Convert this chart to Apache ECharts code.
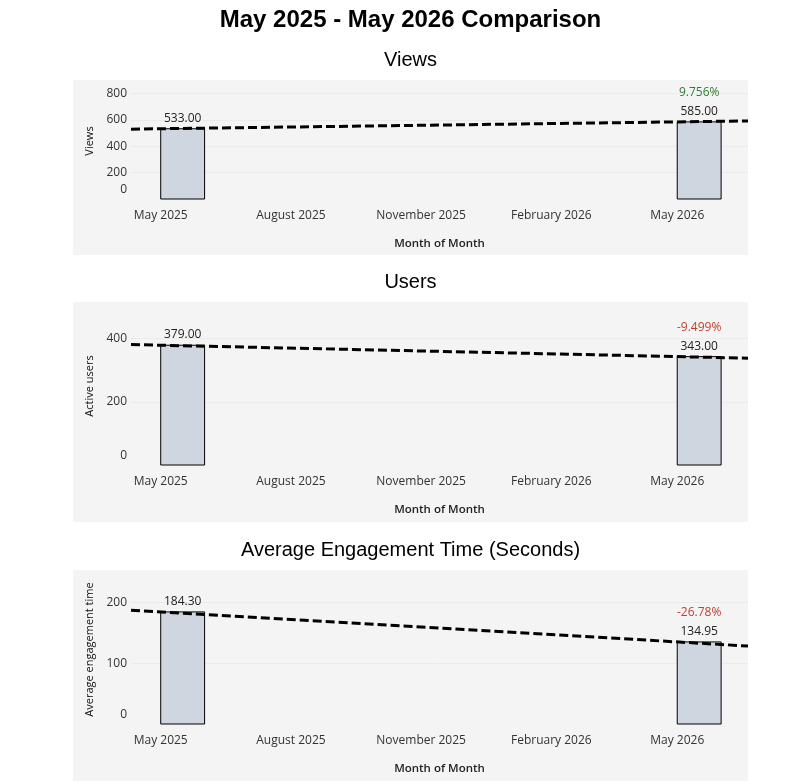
<!DOCTYPE html>
<html>
<head>
<meta charset="utf-8">
<script src="https://cdn.jsdelivr.net/npm/echarts@6/dist/echarts.min.js"></script>
<style>
	html, body { margin: 0; padding: 0; background: #fff; }
	#chart { width: 811px; height: 784px; }
</style>
</head>
<body>
<div id="chart"></div>
<script>
// data
const months = [ '2025-05', '2026-05' ]
const views = [ 533.0, 585.0 ]
const users = [ 379.0, 343.0 ]
const engagement = [ 184.3, 134.95 ]
const viewsChange = [ '', '9.756%' ]
const usersChange = [ '', '-9.499%' ]
const engagementChange = [ '', '-26.78%' ]
const tickMonths = [ '2025-05', '2025-08', '2025-11', '2026-02', '2026-05' ]
const viewsTicks = [ 0, 200, 400, 600, 800 ]
const usersTicks = [ 0, 200, 400 ]
const engagementTicks = [ 0, 100, 200 ]

const monthNames = [ 'January', 'February', 'March', 'April', 'May', 'June', 'July',
	'August', 'September', 'October', 'November', 'December' ]
const FONT = '"Open Sans", "Noto Sans", sans-serif'

const toTime = (s, add = 0) => {
	const [ y, m ] = s.split('-').map(Number)
	return Date.UTC(y, m - 1 + add, 1)
}
const tickKeys = tickMonths.map((s) => toTime(s))
const xMin = Date.UTC(2025, 3, 10)
const xMax = Date.UTC(2026, 5, 20)

const panels = [
	{ name: 'Views', title: 'Views', values: views, change: viewsChange, ticks: viewsTicks, max: 880, interval: 200, top: 83, height: 116, bg: [ 80, 255 ] },
	{ name: 'Active users', title: 'Users', values: users, change: usersChange, ticks: usersTicks, max: 500, interval: 200, top: 307, height: 158, bg: [ 302, 522 ] },
	{ name: 'Average engagement time', title: 'Average Engagement Time (Seconds)', values: engagement, change: engagementChange, ticks: engagementTicks, max: 245, interval: 100, top: 575, height: 149, bg: [ 570, 781 ] }
]

// linear trend through the two months, stretched over the whole pane
const trend = (values) => {
	const t0 = toTime(months[0])
	const t1 = toTime(months[1])
	const slope = (values[1] - values[0]) / (t1 - t0)
	return [ xMin, xMax ].map((t) => [ t, values[0] + slope * (t - t0) ])
}

const renderBar = (params, api, change) => {
	const start = api.value(0)
	const end = api.value(1)
	const v = api.value(2)
	const p0 = api.coord([ start, v ])
	const p1 = api.coord([ end, 0 ])
	const cx = (p0[0] + p1[0]) / 2
	const pct = change[params.dataIndex]
	const children = [
		{
			type: 'rect',
			shape: { x: p0[0], y: p0[1], width: p1[0] - p0[0], height: p1[1] - p0[1] },
			style: { fill: '#cfd6e0', stroke: '#000', lineWidth: 1 }
		},
		{
			type: 'text',
			x: cx,
			y: p0[1] - 10.5,
			style: { text: v.toFixed(2), align: 'center', verticalAlign: 'middle', font: '12px ' + FONT, fill: '#222' }
		}
	]
	if (pct) {
		children.push({
			type: 'text',
			x: cx,
			y: p0[1] - 29,
			style: {
				text: pct,
				align: 'center',
				verticalAlign: 'middle',
				font: '12px ' + FONT,
				fill: pct[0] === '-' ? '#c0412c' : '#2f7d32'
			}
		})
	}
	return { type: 'group', children }
}

const grid = []
const xAxis = []
const yAxis = []
const series = []
const graphic = [
	{
		type: 'text', x: 410.5, y: 20,
		style: { text: 'May 2025 - May 2026 Comparison', align: 'center', verticalAlign: 'middle', font: 'bold 24px "Liberation Sans", Arial, sans-serif', fill: '#000' }
	}
]

panels.forEach((p, i) => {
	graphic.push({ type: 'rect', z: -10, shape: { x: 73, y: p.bg[0], width: 675, height: p.bg[1] - p.bg[0] }, style: { fill: '#f4f4f4' } })
	graphic.push({
		type: 'text', x: 410.5, y: p.bg[0] - 20,
		style: { text: p.title, align: 'center', verticalAlign: 'middle', font: '20px "Liberation Sans", Arial, sans-serif', fill: '#000' }
	})
	grid.push({ left: 131, right: 63, top: p.top, height: p.height })
	xAxis.push({
		type: 'time',
		gridIndex: i,
		min: xMin,
		max: xMax,
		splitNumber: 14,
		name: 'Month of Month',
		nameLocation: 'middle',
		nameGap: 39,
		nameTextStyle: { fontFamily: FONT, fontSize: 11.5, fontWeight: 600, color: '#222' },
		axisLine: { show: false },
		axisTick: { show: false },
		splitLine: { show: false },
		axisLabel: {
			margin: 11,
			fontFamily: FONT,
			fontSize: 12,
			color: '#333',
			hideOverlap: false,
			formatter: (value) => {
				if (tickKeys.indexOf(value) < 0) return ''
				const d = new Date(value)
				return monthNames[d.getUTCMonth()] + ' ' + d.getUTCFullYear()
			}
		}
	})
	yAxis.push({
		type: 'value',
		gridIndex: i,
		min: 0,
		max: p.max,
		interval: p.interval,
		name: p.name,
		nameLocation: 'middle',
		nameGap: 36,
		nameTextStyle: { fontFamily: FONT, fontSize: 11, color: '#111' },
		axisLine: { show: false },
		axisTick: { show: false },
		splitLine: { showMinLine: false, showMaxLine: false, lineStyle: { color: '#ebebeb', width: 1 } },
		axisLabel: {
			margin: 4,
			fontFamily: FONT,
			fontSize: 12,
			color: '#333',
			formatter: (v) => {
				if (p.ticks.indexOf(v) < 0) return ''
				return v === 0 ? '{z|0}' : String(v)
			},
			rich: { z: { fontFamily: FONT, fontSize: 12, color: '#333', padding: [ 0, 0, 18, 0 ] } }
		}
	})
	series.push({
		type: 'custom',
		xAxisIndex: i,
		yAxisIndex: i,
		renderItem: (params, api) => renderBar(params, api, p.change),
		encode: { x: [ 0, 1 ], y: 2 },
		data: months.map((m, k) => [ toTime(m), toTime(m, 1), p.values[k] ]),
		z: 2
	})
	series.push({
		type: 'line',
		xAxisIndex: i,
		yAxisIndex: i,
		data: trend(p.values),
		symbol: 'none',
		lineStyle: { color: '#000', width: 3, type: [ 9, 4 ] },
		z: 5,
		silent: true
	})
})

const chart = echarts.init(document.getElementById('chart'))
chart.setOption({
	animation: false,
	useUTC: true,
	grid,
	xAxis,
	yAxis,
	series,
	graphic
})
</script>
</body>
</html>
